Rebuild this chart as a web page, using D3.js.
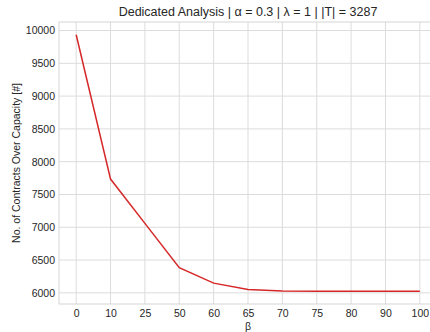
<!DOCTYPE html>
<html>
<head>
<meta charset="utf-8">
<script src="https://cdn.jsdelivr.net/npm/d3@7"></script>
<style>
	body{margin:0;background:#fff;overflow:hidden;}
	svg{display:block;}
	text{font-family:"Liberation Sans",Arial,sans-serif;fill:#262626;}
</style>
</head>
<body>
<div id="idChart"></div>
<script>
var aBeta=["0","10","25","50","60","65","70","75","80","90","100"];
var aOverCapacity=[9935,7735,7060,6385,6148,6052,6027,6026,6026,6026,6026];
var aYTicks=[6000,6500,7000,7500,8000,8500,9000,9500,10000];
var sTitle="Dedicated Analysis | \u03b1 = 0.3 | \u03bb = 1 | |T| = 3287";
var sXLabel="\u03b2";
var sYLabel="No. of Contracts Over Capacity [#]";

var iWidth=430;
var iHeight=332;
var myMargin={left:59,top:22,right:437,bottom:304};

var myCanvas=d3.select("#idChart").append("svg")
	.attr("width",iWidth)
	.attr("height",iHeight);

var myX=d3.scalePoint()
	.domain(aBeta)
	.range([myMargin.left,myMargin.right])
	.padding(0.5);

var myY=d3.scaleLinear()
	.domain([5830,10130])
	.range([myMargin.bottom,myMargin.top]);

// grid
var myGrid=myCanvas.append("g");
myGrid.selectAll(".vgrid").data(aBeta).enter().append("line")
	.attr("x1",function(d){return myX(d);})
	.attr("x2",function(d){return myX(d);})
	.attr("y1",myMargin.top)
	.attr("y2",myMargin.bottom)
	.attr("stroke","#dcdcdc")
	.attr("stroke-width",1);
myGrid.selectAll(".hgrid").data(aYTicks).enter().append("line")
	.attr("x1",myMargin.left)
	.attr("x2",myMargin.right)
	.attr("y1",function(d){return myY(d);})
	.attr("y2",function(d){return myY(d);})
	.attr("stroke","#dcdcdc")
	.attr("stroke-width",1);

// frame
myCanvas.append("rect")
	.attr("x",myMargin.left)
	.attr("y",myMargin.top)
	.attr("width",myMargin.right-myMargin.left)
	.attr("height",myMargin.bottom-myMargin.top)
	.attr("fill","none")
	.attr("stroke","#d5d5d5")
	.attr("stroke-width",1);

// axes
var myXAxis=myCanvas.append("g")
	.attr("transform","translate(0,"+myMargin.bottom+")")
	.call(d3.axisBottom(myX).tickSize(0).tickPadding(6));
var myYAxis=myCanvas.append("g")
	.attr("transform","translate("+myMargin.left+",0)")
	.call(d3.axisLeft(myY).tickValues(aYTicks).tickFormat(d3.format("d")).tickSize(0).tickPadding(4));
myXAxis.select(".domain").remove();
myYAxis.select(".domain").remove();
myCanvas.selectAll(".tick text")
	.attr("font-size",10.5)
	.attr("font-family","Liberation Sans, Arial, sans-serif")
	.attr("fill","#262626");

// line
var myLine=d3.line()
	.x(function(d,i){return myX(aBeta[i]);})
	.y(function(d){return myY(d);});
myCanvas.append("path")
	.datum(aOverCapacity)
	.attr("d",myLine)
	.attr("fill","none")
	.attr("stroke","#d62728")
	.attr("stroke-width",1.5);

// labels
myCanvas.append("text")
	.text(sTitle)
	.attr("x",248)
	.attr("y",16)
	.attr("text-anchor","middle")
	.attr("font-size",12.5);
myCanvas.append("text")
	.text(sXLabel)
	.attr("x",248)
	.attr("y",330)
	.attr("text-anchor","middle")
	.attr("font-size",10.5);
myCanvas.append("text")
	.text(sYLabel)
	.attr("transform","translate(20,"+((myMargin.top+myMargin.bottom)/2)+") rotate(-90)")
	.attr("text-anchor","middle")
	.attr("font-size",10.5);
</script>
</body>
</html>
